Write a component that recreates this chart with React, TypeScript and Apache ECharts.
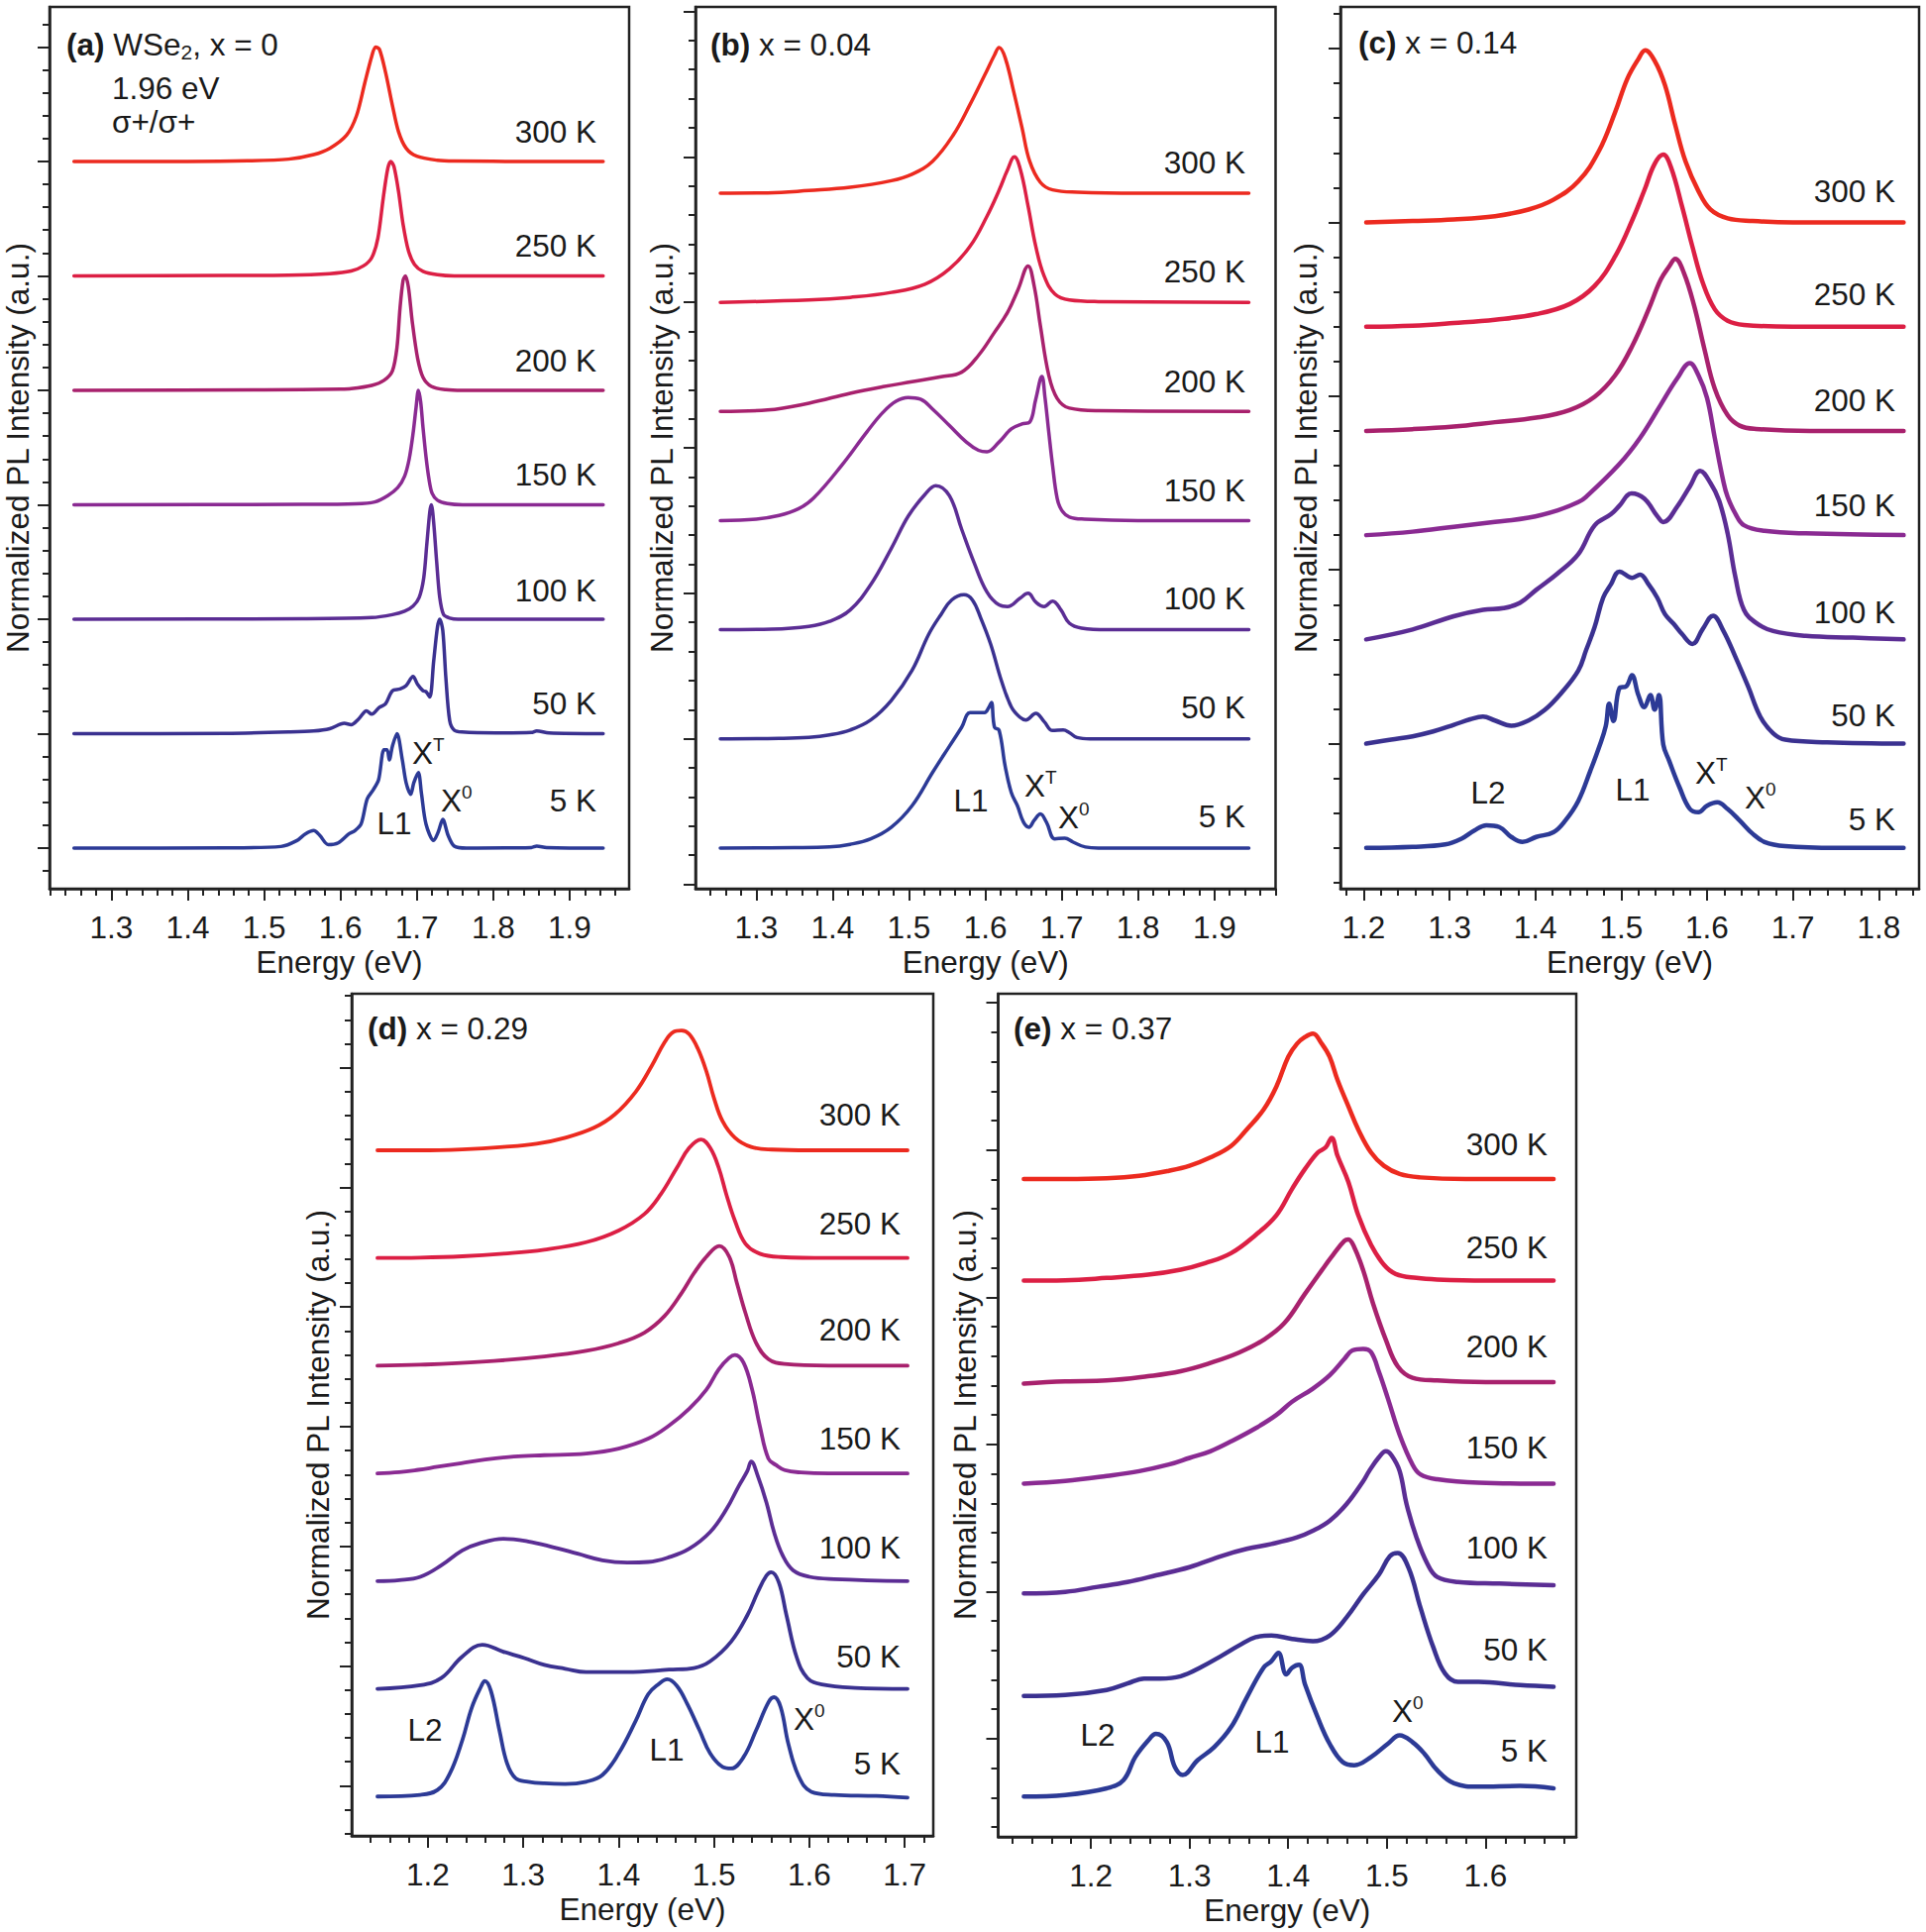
import React, { useEffect, useRef } from 'react';
import * as echarts from 'echarts';

const FONT = "'Liberation Sans', Arial, Helvetica, sans-serif";

const temps = ['300 K', '250 K', '200 K', '150 K', '100 K', '50 K', '5 K'];
const colors = ['#ec2a1f', '#dc1f44', '#a8216d', '#8a2a92', '#5b2d94', '#3a3190', '#2c3a96'];

// ---------- panel (a) WSe2, x = 0 ----------
const a300 = [[1.251,0],[1.40,0],[1.478,0.005],[1.532,0.02],[1.565,0.06],[1.586,0.115],[1.608,0.23],[1.621,0.4],[1.632,0.69],[1.641,0.92],[1.646,1.0],[1.651,0.98],[1.659,0.78],[1.668,0.49],[1.676,0.26],[1.686,0.115],[1.70,0.045],[1.727,0.01],[1.749,0.003],[1.85,0],[1.944,0]];
const a250 = [[1.251,0],[1.45,0.003],[1.532,0.006],[1.586,0.02],[1.614,0.043],[1.63,0.087],[1.641,0.16],[1.649,0.33],[1.656,0.68],[1.662,0.94],[1.666,1.0],[1.67,0.957],[1.676,0.74],[1.682,0.45],[1.689,0.22],[1.697,0.1],[1.708,0.04],[1.727,0.01],[1.749,0],[1.944,0]];
const a200 = [[1.251,0],[1.5,0.004],[1.60,0.01],[1.614,0.014],[1.641,0.043],[1.657,0.087],[1.668,0.17],[1.674,0.375],[1.678,0.72],[1.682,0.96],[1.685,1.0],[1.689,0.9],[1.694,0.6],[1.701,0.28],[1.708,0.115],[1.719,0.035],[1.738,0.006],[1.76,0],[1.944,0]];
const a150 = [[1.251,0],[1.55,0.003],[1.62,0.008],[1.645,0.025],[1.662,0.08],[1.675,0.15],[1.684,0.25],[1.69,0.4],[1.695,0.62],[1.699,0.85],[1.702,1.0],[1.705,0.9],[1.708,0.68],[1.712,0.42],[1.716,0.22],[1.72,0.1],[1.727,0.04],[1.74,0.01],[1.76,0],[1.944,0]];
const a100 = [[1.251,0],[1.55,0.004],[1.641,0.014],[1.668,0.04],[1.684,0.07],[1.695,0.115],[1.703,0.19],[1.709,0.36],[1.713,0.65],[1.717,0.94],[1.719,1.0],[1.722,0.85],[1.726,0.5],[1.73,0.19],[1.735,0.04],[1.743,0.01],[1.754,0],[1.944,0]];
const a50 = [[1.251,0],[1.45,0.003],[1.532,0.014],[1.565,0.023],[1.586,0.043],[1.605,0.09],[1.614,0.078],[1.624,0.13],[1.634,0.2],[1.641,0.17],[1.651,0.23],[1.659,0.26],[1.668,0.375],[1.678,0.39],[1.686,0.42],[1.695,0.5],[1.701,0.43],[1.708,0.375],[1.712,0.367],[1.717,0.32],[1.722,0.63],[1.727,0.93],[1.73,1.0],[1.734,0.9],[1.738,0.49],[1.743,0.115],[1.749,0.03],[1.759,0.014],[1.803,0.006],[1.85,0.01],[1.857,0.023],[1.873,0.006],[1.944,0]];
const a5 = [[1.251,0],[1.45,0.002],[1.522,0.014],[1.543,0.066],[1.554,0.124],[1.565,0.153],[1.573,0.11],[1.584,0.03],[1.597,0.046],[1.611,0.124],[1.619,0.153],[1.627,0.21],[1.635,0.43],[1.643,0.51],[1.65,0.6],[1.657,0.86],[1.661,0.86],[1.664,0.77],[1.668,0.89],[1.674,1.0],[1.681,0.77],[1.686,0.57],[1.692,0.47],[1.696,0.57],[1.702,0.66],[1.706,0.48],[1.712,0.21],[1.722,0.066],[1.728,0.14],[1.734,0.25],[1.741,0.11],[1.749,0.017],[1.765,0],[1.85,0.005],[1.857,0.017],[1.87,0.005],[1.944,0]];

// ---------- panel (b) x = 0.04 ----------
const b300 = [[1.253,0],[1.315,0.002],[1.369,0.018],[1.423,0.04],[1.477,0.086],[1.504,0.13],[1.531,0.22],[1.558,0.4],[1.58,0.61],[1.599,0.81],[1.612,0.95],[1.618,1.0],[1.626,0.93],[1.637,0.7],[1.648,0.45],[1.658,0.22],[1.672,0.075],[1.688,0.023],[1.721,0.007],[1.80,0],[1.945,0]];
const b250 = [[1.253,0],[1.369,0.016],[1.423,0.034],[1.477,0.068],[1.521,0.125],[1.553,0.23],[1.58,0.385],[1.602,0.59],[1.618,0.77],[1.629,0.91],[1.638,1.0],[1.646,0.91],[1.656,0.66],[1.666,0.385],[1.677,0.18],[1.691,0.057],[1.71,0.016],[1.748,0.005],[1.945,0]];
const b200 = [[1.253,0],[1.315,0.01],[1.369,0.057],[1.423,0.125],[1.466,0.17],[1.504,0.204],[1.542,0.238],[1.569,0.27],[1.591,0.385],[1.612,0.544],[1.629,0.68],[1.643,0.84],[1.656,1.0],[1.664,0.86],[1.672,0.59],[1.683,0.25],[1.694,0.09],[1.71,0.023],[1.748,0.005],[1.945,0]];
const b150 = [[1.253,0],[1.30,0.01],[1.33,0.035],[1.355,0.08],[1.375,0.154],[1.412,0.38],[1.445,0.61],[1.466,0.744],[1.483,0.82],[1.499,0.846],[1.515,0.834],[1.531,0.766],[1.553,0.653],[1.575,0.54],[1.591,0.483],[1.602,0.472],[1.618,0.54],[1.634,0.63],[1.648,0.664],[1.658,0.676],[1.666,0.834],[1.674,0.99],[1.678,0.85],[1.683,0.61],[1.688,0.38],[1.694,0.154],[1.70,0.07],[1.71,0.025],[1.73,0.01],[1.80,0],[1.945,0]];
const b100 = [[1.253,0],[1.32,0.004],[1.369,0.023],[1.396,0.057],[1.423,0.136],[1.45,0.31],[1.477,0.56],[1.499,0.78],[1.521,0.93],[1.535,0.99],[1.553,0.92],[1.569,0.69],[1.585,0.465],[1.602,0.26],[1.618,0.17],[1.629,0.159],[1.645,0.215],[1.656,0.25],[1.666,0.19],[1.677,0.159],[1.688,0.197],[1.699,0.136],[1.71,0.045],[1.726,0.011],[1.76,0],[1.945,0]];
const b50 = [[1.253,0],[1.33,0.003],[1.369,0.01],[1.396,0.027],[1.423,0.061],[1.45,0.13],[1.477,0.265],[1.504,0.47],[1.526,0.72],[1.542,0.855],[1.556,0.955],[1.572,0.99],[1.583,0.955],[1.594,0.83],[1.607,0.65],[1.621,0.4],[1.634,0.22],[1.645,0.15],[1.653,0.13],[1.666,0.175],[1.677,0.118],[1.688,0.057],[1.702,0.061],[1.71,0.043],[1.72,0.009],[1.737,0],[1.945,0]];
const b5 = [[1.253,0],[1.35,0.002],[1.396,0.007],[1.423,0.025],[1.45,0.063],[1.477,0.143],[1.504,0.29],[1.531,0.52],[1.553,0.7],[1.569,0.83],[1.58,0.93],[1.591,0.93],[1.599,0.93],[1.605,0.97],[1.608,1.0],[1.612,0.83],[1.618,0.81],[1.626,0.56],[1.634,0.38],[1.642,0.29],[1.65,0.177],[1.657,0.143],[1.664,0.19],[1.672,0.234],[1.68,0.177],[1.691,0.063],[1.704,0.068],[1.715,0.04],[1.731,0.007],[1.748,0],[1.945,0]];

// ---------- panel (c) x = 0.14 ----------
const c300 = [[1.203,0],[1.257,0.008],[1.305,0.017],[1.353,0.036],[1.392,0.074],[1.421,0.13],[1.45,0.236],[1.474,0.41],[1.493,0.635],[1.507,0.825],[1.52,0.94],[1.528,0.99],[1.539,0.93],[1.551,0.79],[1.563,0.56],[1.575,0.35],[1.59,0.18],[1.604,0.074],[1.624,0.023],[1.653,0.008],[1.70,0],[1.829,0]];
const c250 = [[1.203,0],[1.257,0.006],[1.305,0.021],[1.353,0.04],[1.401,0.072],[1.44,0.13],[1.469,0.234],[1.493,0.405],[1.513,0.614],[1.527,0.785],[1.539,0.937],[1.549,0.99],[1.558,0.918],[1.571,0.69],[1.583,0.46],[1.595,0.253],[1.609,0.1],[1.624,0.034],[1.643,0.01],[1.70,0],[1.829,0]];
const c200 = [[1.203,0],[1.257,0.01],[1.305,0.025],[1.353,0.05],[1.401,0.076],[1.44,0.12],[1.469,0.196],[1.493,0.32],[1.513,0.49],[1.532,0.7],[1.546,0.87],[1.556,0.947],[1.563,0.99],[1.573,0.91],[1.585,0.72],[1.597,0.47],[1.609,0.243],[1.624,0.09],[1.638,0.03],[1.657,0.011],[1.72,0],[1.829,0]];
const c150 = [[1.203,0],[1.257,0.02],[1.305,0.048],[1.353,0.076],[1.392,0.1],[1.426,0.143],[1.45,0.19],[1.459,0.22],[1.498,0.41],[1.522,0.56],[1.546,0.75],[1.565,0.9],[1.58,0.99],[1.59,0.92],[1.60,0.79],[1.609,0.56],[1.619,0.31],[1.624,0.22],[1.633,0.124],[1.643,0.057],[1.667,0.025],[1.715,0.01],[1.829,0]];
const c100 = [[1.203,0],[1.257,0.057],[1.305,0.133],[1.339,0.17],[1.363,0.18],[1.382,0.21],[1.401,0.285],[1.426,0.38],[1.45,0.49],[1.469,0.656],[1.488,0.72],[1.498,0.77],[1.512,0.84],[1.527,0.81],[1.542,0.71],[1.549,0.675],[1.566,0.77],[1.58,0.88],[1.592,0.97],[1.604,0.9],[1.614,0.8],[1.624,0.61],[1.633,0.36],[1.643,0.17],[1.657,0.095],[1.677,0.048],[1.715,0.02],[1.77,0.01],[1.829,0]];
const c50 = [[1.203,0],[1.232,0.023],[1.257,0.042],[1.281,0.07],[1.305,0.108],[1.324,0.14],[1.339,0.156],[1.353,0.133],[1.372,0.103],[1.392,0.133],[1.411,0.194],[1.43,0.29],[1.45,0.42],[1.459,0.536],[1.469,0.67],[1.479,0.84],[1.488,0.916],[1.498,0.99],[1.513,0.954],[1.522,0.973],[1.532,0.916],[1.542,0.84],[1.551,0.745],[1.561,0.69],[1.571,0.63],[1.583,0.574],[1.595,0.66],[1.607,0.736],[1.619,0.65],[1.633,0.5],[1.648,0.327],[1.662,0.156],[1.677,0.06],[1.691,0.023],[1.74,0.008],[1.829,0]];
const c5 = [[1.203,0],[1.257,0.006],[1.295,0.02],[1.314,0.053],[1.329,0.1],[1.343,0.13],[1.358,0.12],[1.372,0.063],[1.385,0.034],[1.401,0.063],[1.421,0.09],[1.435,0.158],[1.45,0.27],[1.464,0.443],[1.474,0.576],[1.482,0.7],[1.486,0.83],[1.491,0.73],[1.498,0.92],[1.506,0.93],[1.5125,0.994],[1.52,0.88],[1.527,0.81],[1.534,0.88],[1.539,0.795],[1.544,0.88],[1.549,0.595],[1.556,0.5],[1.568,0.348],[1.58,0.224],[1.59,0.205],[1.60,0.243],[1.612,0.262],[1.624,0.224],[1.638,0.158],[1.653,0.082],[1.667,0.034],[1.691,0.01],[1.75,0],[1.829,0]];

// ---------- panel (d) x = 0.29 ----------
const d300 = [[1.147,0],[1.192,0],[1.236,0.008],[1.279,0.028],[1.314,0.055],[1.344,0.105],[1.374,0.188],[1.396,0.3],[1.418,0.49],[1.435,0.71],[1.448,0.9],[1.457,0.986],[1.466,1.0],[1.474,0.97],[1.483,0.85],[1.492,0.66],[1.50,0.436],[1.509,0.243],[1.522,0.105],[1.539,0.028],[1.561,0.006],[1.60,0],[1.703,0]];
const d250 = [[1.147,0],[1.192,0.003],[1.236,0.014],[1.279,0.036],[1.322,0.069],[1.366,0.132],[1.40,0.23],[1.427,0.367],[1.444,0.53],[1.461,0.753],[1.474,0.92],[1.4865,0.99],[1.496,0.92],[1.505,0.753],[1.513,0.53],[1.522,0.31],[1.533,0.119],[1.548,0.036],[1.57,0.008],[1.62,0],[1.703,0]];
const d200 = [[1.147,0],[1.192,0.008],[1.257,0.033],[1.322,0.077],[1.366,0.124],[1.40,0.188],[1.427,0.276],[1.448,0.414],[1.466,0.607],[1.479,0.773],[1.492,0.91],[1.5056,1.0],[1.516,0.91],[1.524,0.69],[1.533,0.44],[1.544,0.193],[1.557,0.055],[1.574,0.014],[1.62,0],[1.703,0]];
const d150 = [[1.147,0],[1.17,0.01],[1.19,0.03],[1.21,0.055],[1.235,0.085],[1.26,0.115],[1.29,0.14],[1.322,0.152],[1.366,0.166],[1.40,0.207],[1.431,0.29],[1.453,0.4],[1.474,0.54],[1.492,0.7],[1.505,0.87],[1.516,0.966],[1.522,0.99],[1.531,0.925],[1.54,0.7],[1.548,0.4],[1.557,0.124],[1.565,0.07],[1.574,0.028],[1.591,0.008],[1.62,0],[1.703,0]];
const d100 = [[1.147,0],[1.17,0.008],[1.192,0.036],[1.214,0.132],[1.236,0.257],[1.253,0.312],[1.279,0.353],[1.305,0.331],[1.331,0.284],[1.357,0.229],[1.383,0.174],[1.409,0.155],[1.431,0.16],[1.453,0.2],[1.474,0.27],[1.496,0.41],[1.513,0.6],[1.526,0.795],[1.535,0.92],[1.539,1.0],[1.546,0.877],[1.555,0.657],[1.563,0.408],[1.572,0.215],[1.583,0.09],[1.60,0.036],[1.626,0.017],[1.703,0]];
const d50 = [[1.147,0],[1.192,0.03],[1.214,0.09],[1.236,0.27],[1.257,0.367],[1.279,0.31],[1.301,0.257],[1.322,0.2],[1.344,0.168],[1.366,0.14],[1.409,0.14],[1.453,0.16],[1.479,0.174],[1.496,0.23],[1.518,0.395],[1.535,0.615],[1.546,0.81],[1.555,0.946],[1.56,0.975],[1.568,0.89],[1.576,0.615],[1.587,0.257],[1.598,0.09],[1.613,0.036],[1.648,0.008],[1.703,0]];
const d5 = [[1.147,0],[1.192,0.014],[1.21,0.055],[1.223,0.193],[1.236,0.47],[1.246,0.745],[1.256,0.925],[1.2595,0.966],[1.266,0.883],[1.275,0.55],[1.283,0.276],[1.292,0.152],[1.305,0.124],[1.322,0.11],[1.344,0.105],[1.366,0.124],[1.383,0.18],[1.40,0.36],[1.418,0.635],[1.431,0.855],[1.442,0.94],[1.451,0.98],[1.461,0.925],[1.472,0.773],[1.485,0.55],[1.496,0.36],[1.509,0.248],[1.518,0.235],[1.531,0.33],[1.544,0.55],[1.557,0.786],[1.563,0.83],[1.57,0.745],[1.578,0.44],[1.589,0.166],[1.602,0.04],[1.626,0.014],[1.67,0.005],[1.703,-0.01]];

// ---------- panel (e) x = 0.37 ----------
const e300 = [[1.132,0],[1.174,0],[1.216,0.005],[1.249,0.022],[1.279,0.056],[1.30,0.09],[1.321,0.146],[1.342,0.224],[1.358,0.337],[1.375,0.471],[1.388,0.628],[1.40,0.83],[1.409,0.92],[1.417,0.965],[1.425,0.988],[1.434,0.92],[1.442,0.83],[1.45,0.673],[1.461,0.494],[1.471,0.337],[1.484,0.18],[1.497,0.09],[1.513,0.034],[1.534,0.011],[1.58,0],[1.669,0]];
const e250 = [[1.132,0],[1.174,0.002],[1.216,0.018],[1.258,0.04],[1.291,0.074],[1.316,0.119],[1.342,0.186],[1.367,0.31],[1.388,0.444],[1.404,0.624],[1.417,0.758],[1.43,0.87],[1.438,0.905],[1.444,0.97],[1.45,0.848],[1.461,0.67],[1.471,0.444],[1.484,0.242],[1.497,0.108],[1.509,0.045],[1.53,0.018],[1.551,0.007],[1.60,0],[1.669,0]];
const e200 = [[1.132,-0.01],[1.174,0.005],[1.216,0.011],[1.258,0.04],[1.291,0.074],[1.321,0.13],[1.35,0.2],[1.375,0.287],[1.396,0.4],[1.417,0.6],[1.434,0.76],[1.446,0.87],[1.457,0.96],[1.461,0.97],[1.467,0.916],[1.476,0.76],[1.486,0.534],[1.499,0.287],[1.511,0.108],[1.526,0.03],[1.551,0.011],[1.60,0],[1.669,0]];
const e150 = [[1.132,0],[1.174,0.018],[1.216,0.052],[1.249,0.085],[1.279,0.13],[1.30,0.175],[1.321,0.22],[1.342,0.287],[1.367,0.377],[1.388,0.467],[1.404,0.557],[1.425,0.646],[1.442,0.736],[1.457,0.848],[1.465,0.905],[1.476,0.916],[1.484,0.893],[1.492,0.759],[1.501,0.58],[1.513,0.332],[1.526,0.13],[1.534,0.063],[1.551,0.03],[1.593,0.007],[1.669,0]];
const e100 = [[1.132,-0.056],[1.174,-0.045],[1.207,-0.011],[1.237,0.022],[1.266,0.067],[1.30,0.123],[1.333,0.2],[1.358,0.247],[1.383,0.28],[1.409,0.325],[1.425,0.37],[1.442,0.438],[1.459,0.55],[1.476,0.707],[1.482,0.775],[1.492,0.87],[1.499,0.91],[1.505,0.88],[1.513,0.775],[1.52,0.55],[1.53,0.325],[1.541,0.146],[1.551,0.056],[1.572,0.022],[1.614,0.011],[1.669,0]];
const e50 = [[1.132,-0.063],[1.174,-0.056],[1.216,-0.022],[1.237,0.022],[1.254,0.056],[1.27,0.056],[1.291,0.072],[1.312,0.135],[1.333,0.213],[1.35,0.28],[1.367,0.337],[1.383,0.348],[1.404,0.325],[1.425,0.31],[1.442,0.348],[1.459,0.47],[1.476,0.628],[1.492,0.763],[1.503,0.887],[1.511,0.909],[1.522,0.808],[1.534,0.539],[1.547,0.27],[1.559,0.09],[1.572,0.034],[1.593,0.034],[1.635,0.011],[1.669,0]];
const e5 = [[1.132,-0.056],[1.174,-0.045],[1.216,0],[1.233,0.056],[1.245,0.213],[1.258,0.325],[1.266,0.37],[1.277,0.314],[1.285,0.146],[1.293,0.09],[1.308,0.19],[1.325,0.28],[1.342,0.415],[1.358,0.617],[1.375,0.82],[1.383,0.864],[1.39,0.92],[1.398,0.774],[1.404,0.82],[1.411,0.84],[1.417,0.707],[1.43,0.48],[1.442,0.303],[1.455,0.18],[1.467,0.157],[1.484,0.213],[1.501,0.303],[1.513,0.36],[1.526,0.314],[1.538,0.236],[1.551,0.123],[1.568,0.034],[1.593,0.011],[1.635,0.016],[1.669,0]];

// vertical offsets of the stacked spectra (300 K ... 5 K)
const offA = [6, 5, 4, 3, 2, 1, 0];
const offB = [4.75, 4.0, 3.25, 2.5, 1.75, 1.0, 0.25];
const offC = [4.0, 3.4, 2.8, 2.2, 1.6, 1.0, 0.4];
const offD = [5.31, 4.41, 3.51, 2.61, 1.71, 0.81, -0.09];
const offE = [3.803, 3.113, 2.423, 1.733, 1.043, 0.353, -0.337];

// x tick labels
const xLabelsAB = [1.3, 1.4, 1.5, 1.6, 1.7, 1.8, 1.9];
const xLabelsC = [1.2, 1.3, 1.4, 1.5, 1.6, 1.7, 1.8];
const xLabelsD = [1.2, 1.3, 1.4, 1.5, 1.6, 1.7];
const xLabelsE = [1.2, 1.3, 1.4, 1.5, 1.6];

function steps(lo: number, hi: number, st: number) {
  const out: number[] = [];
  const n = Math.round((hi - lo) / st);
  for (let i = 0; i <= n; i++) out.push(Math.round((lo + i * st) * 1000) / 1000);
  return out;
}
function minorOf(all: number[], major: number[]) {
  return all.filter((v) => !major.some((m) => Math.abs(m - v) < 1e-6));
}

type Ann = { t: string; sup?: string; x: number; y: number; align?: string };

const panels = [
  {
    curves: [a300, a250, a200, a150, a100, a50, a5], off: offA,
    grid: { left: 50, top: 7, width: 585, height: 890 },
    xMin: 1.219, xMax: 1.978, yMin: -0.355, yMax: 7.35,
    xMajor: xLabelsAB, xAll: steps(1.22, 1.96, 0.02),
    yMajor: steps(0, 7, 1), yAll: steps(-0.2, 7.2, 0.2),
    lw: 3.5, smooth: 0.3, labelRight: 602, labelDy: [30, 30, 30, 30, 29, 30, 48],
    title: { b: '(a)', rest: ' WSe', sub: '2', after: ', x = 0', x: 67, y: 45 },
    yTitle: { x: 18, y: 452 },
    ann: [
      { t: 'L1', x: 398, y: 831, align: 'center' },
      { t: 'X', sup: 'T', x: 416, y: 760 },
      { t: 'X', sup: '0', x: 445, y: 808 },
    ] as Ann[],
  },
  {
    curves: [b300, b250, b200, b150, b100, b50, b5], off: offB,
    grid: { left: 702, top: 7, width: 585.5, height: 890 },
    xMin: 1.2205, xMax: 1.98, yMin: -0.03, yMax: 6.03,
    xMajor: xLabelsAB, xAll: steps(1.22, 1.98, 0.02),
    yMajor: steps(0, 6, 1), yAll: steps(0, 6, 0.2),
    lw: 3.5, smooth: 0.4, labelRight: 1257, labelDy: [31, 31, 30, 30, 32, 32, 32],
    title: { b: '(b)', rest: ' x = 0.04', sub: '', after: '', x: 717, y: 45 },
    yTitle: { x: 668, y: 452 },
    ann: [
      { t: 'L1', x: 980, y: 808, align: 'center' },
      { t: 'X', sup: 'T', x: 1034, y: 793 },
      { t: 'X', sup: '0', x: 1068, y: 825 },
    ] as Ann[],
  },
  {
    curves: [c300, c250, c200, c150, c100, c50, c5], off: offC,
    grid: { left: 1353, top: 7, width: 584, height: 890 },
    xMin: 1.173, xMax: 1.847, yMin: 0.165, yMax: 5.24,
    xMajor: xLabelsC, xAll: steps(1.18, 1.84, 0.02),
    yMajor: steps(1, 5, 1), yAll: steps(0.2, 5.2, 0.2),
    lw: 4.5, smooth: 0.4, labelRight: 1913, labelDy: [31, 33, 31, 30, 27, 29, 29],
    title: { b: '(c)', rest: ' x = 0.14', sub: '', after: '', x: 1371, y: 43 },
    yTitle: { x: 1318, y: 452 },
    ann: [
      { t: 'L2', x: 1502, y: 800, align: 'center' },
      { t: 'L1', x: 1648, y: 797, align: 'center' },
      { t: 'X', sup: 'T', x: 1711, y: 780 },
      { t: 'X', sup: '0', x: 1761, y: 805 },
    ] as Ann[],
  },
  {
    curves: [d300, d250, d200, d150, d100, d50, d5], off: offD,
    grid: { left: 355, top: 1003, width: 587, height: 850 },
    xMin: 1.12, xMax: 1.73, yMin: -0.419, yMax: 6.618,
    xMajor: xLabelsD, xAll: steps(1.14, 1.72, 0.02),
    yMajor: steps(0, 6, 1), yAll: steps(-0.4, 6.6, 0.2),
    lw: 3.8, smooth: 0.4, labelRight: 909, labelDy: [36, 35, 36, 35, 34, 33, 33],
    title: { b: '(d)', rest: ' x = 0.29', sub: '', after: '', x: 371, y: 1038 },
    yTitle: { x: 321, y: 1428 },
    ann: [
      { t: 'L2', x: 429, y: 1746, align: 'center' },
      { t: 'L1', x: 673, y: 1766, align: 'center' },
      { t: 'X', sup: '0', x: 801, y: 1735 },
    ] as Ann[],
  },
  {
    curves: [e300, e250, e200, e150, e100, e50, e5], off: offE,
    grid: { left: 1007.5, top: 1003, width: 583.5, height: 851 },
    xMin: 1.106, xMax: 1.692, yMin: -0.667, yMax: 5.062,
    xMajor: xLabelsE, xAll: steps(1.12, 1.68, 0.02),
    yMajor: steps(0, 5, 1), yAll: steps(-0.6, 5.0, 0.2),
    lw: 4.5, smooth: 0.4, labelRight: 1562, labelDy: [35, 34, 36, 36, 38, 37, 38],
    title: { b: '(e)', rest: ' x = 0.37', sub: '', after: '', x: 1023, y: 1038 },
    yTitle: { x: 974, y: 1428 },
    ann: [
      { t: 'L2', x: 1108, y: 1751, align: 'center' },
      { t: 'L1', x: 1284, y: 1758, align: 'center' },
      { t: 'X', sup: '0', x: 1405, y: 1727 },
    ] as Ann[],
  },
];

const INK = '#1a1a1a';
const FS = 31.5;

function buildOption() {
  const grid: any[] = [];
  const xAxis: any[] = [];
  const yAxis: any[] = [];
  const series: any[] = [];
  const graphic: any[] = [];

  panels.forEach((p, i) => {
    grid.push({
      left: p.grid.left, top: p.grid.top, width: p.grid.width, height: p.grid.height,
      show: true, borderColor: '#222', borderWidth: 2.5, backgroundColor: 'transparent',
      containLabel: false, outerBoundsMode: 'none',
    });
    const xMinor = minorOf(p.xAll, p.xMajor).filter((v) => v >= p.xMin && v <= p.xMax);
    const xMaj = p.xMajor.filter((v) => v >= p.xMin && v <= p.xMax);
    const yMinor = minorOf(p.yAll, p.yMajor).filter((v) => v >= p.yMin && v <= p.yMax);
    const yMaj = p.yMajor.filter((v) => v >= p.yMin && v <= p.yMax);

    xAxis.push({
      gridIndex: i, type: 'value', min: p.xMin, max: p.xMax, position: 'bottom',
      axisLine: { show: true, onZero: false, lineStyle: { color: '#222', width: 2.5 } },
      axisTick: { show: true, inside: false, length: 12, lineStyle: { color: '#222', width: 2 }, customValues: xMaj },
      axisLabel: {
        show: true, customValues: xMaj, margin: 23, fontSize: FS, color: INK, fontFamily: FONT,
        formatter: (v: number) => v.toFixed(1),
      },
      splitLine: { show: false },
    });
    xAxis.push({
      gridIndex: i, type: 'value', min: p.xMin, max: p.xMax, position: 'bottom',
      axisLine: { show: false, onZero: false },
      axisTick: { show: true, inside: false, length: 7, lineStyle: { color: '#222', width: 2 }, customValues: xMinor },
      axisLabel: { show: false },
      splitLine: { show: false },
    });
    yAxis.push({
      gridIndex: i, type: 'value', min: p.yMin, max: p.yMax, position: 'left',
      axisLine: { show: true, onZero: false, lineStyle: { color: '#222', width: 2.5 } },
      axisTick: { show: true, inside: false, length: 12, lineStyle: { color: '#222', width: 2 }, customValues: yMaj },
      axisLabel: { show: false },
      splitLine: { show: false },
    });
    yAxis.push({
      gridIndex: i, type: 'value', min: p.yMin, max: p.yMax, position: 'left',
      axisLine: { show: false, onZero: false },
      axisTick: { show: true, inside: false, length: 7, lineStyle: { color: '#222', width: 2 }, customValues: yMinor },
      axisLabel: { show: false },
      splitLine: { show: false },
    });

    p.curves.forEach((c, k) => {
      series.push({
        type: 'line', xAxisIndex: 2 * i, yAxisIndex: 2 * i,
        data: c.map(([x, y]) => [x, y + p.off[k]]),
        showSymbol: false, symbol: 'none', smooth: p.smooth,
        lineStyle: { color: colors[k], width: p.lw, cap: 'round', join: 'round' },
        z: 2 + k, silent: true, animation: false,
      });
    });

    const yPx = (v: number) => p.grid.top + ((p.yMax - v) / (p.yMax - p.yMin)) * p.grid.height;

    // temperature labels
    temps.forEach((t, k) => {
      graphic.push({
        type: 'text', x: p.labelRight, y: yPx(p.off[k]) - p.labelDy[k], z: 50,
        style: { text: t, fontFamily: FONT, fontSize: FS, fill: INK, align: 'right', verticalAlign: 'middle' },
      });
    });

    // panel title
    const tt = p.title;
    const titleText = '{b|' + tt.b + '}{n|' + tt.rest + '}' + (tt.sub ? '{sub|' + tt.sub + '}' : '') + (tt.after ? '{n|' + tt.after + '}' : '');
    graphic.push({
      type: 'text', x: tt.x, y: tt.y, z: 50,
      style: {
        text: titleText, align: 'left', verticalAlign: 'middle', fill: INK, fontFamily: FONT, fontSize: FS,
        rich: {
          b: { fontFamily: FONT, fontSize: FS, fontWeight: 'bold', lineHeight: 36, fill: INK },
          n: { fontFamily: FONT, fontSize: FS, lineHeight: 36, fill: INK },
          sub: { fontFamily: FONT, fontSize: 21, lineHeight: 15, verticalAlign: 'bottom', fill: INK },
        },
      },
    });

    // y axis title
    graphic.push({
      type: 'text', x: p.yTitle.x, y: p.yTitle.y, rotation: Math.PI / 2, z: 50,
      style: { text: 'Normalized PL Intensity (a.u.)', fontFamily: FONT, fontSize: FS, fill: INK, align: 'center', verticalAlign: 'middle' },
    });
    // x axis title
    graphic.push({
      type: 'text', x: p.grid.left + p.grid.width / 2, y: p.grid.top + p.grid.height + 74, z: 50,
      style: { text: 'Energy (eV)', fontFamily: FONT, fontSize: FS, fill: INK, align: 'center', verticalAlign: 'middle' },
    });

    // peak annotations
    p.ann.forEach((a) => {
      const text = a.sup ? '{n|' + a.t + '}{s|' + a.sup + '}' : a.t;
      graphic.push({
        type: 'text', x: a.x, y: a.y, z: 50,
        style: {
          text, fontFamily: FONT, fontSize: FS, fill: INK, align: a.align || 'left', verticalAlign: 'middle',
          rich: {
            n: { fontFamily: FONT, fontSize: FS, lineHeight: 36, fill: INK },
            s: { fontFamily: FONT, fontSize: 19, lineHeight: 21, verticalAlign: 'top', fill: INK },
          },
        },
      });
    });
  });

  // extra text in panel (a)
  graphic.push({
    type: 'text', x: 113, y: 89, z: 50,
    style: { text: '1.96 eV', fontFamily: FONT, fontSize: FS, fill: INK, align: 'left', verticalAlign: 'middle' },
  });
  graphic.push({
    type: 'text', x: 113, y: 123, z: 50,
    style: { text: 'σ+/σ+', fontFamily: FONT, fontSize: FS, fill: INK, align: 'left', verticalAlign: 'middle' },
  });

  return {
    animation: false,
    backgroundColor: '#ffffff',
    grid, xAxis, yAxis, series, graphic,
  };
}

export default function App() {
  const ref = useRef<HTMLDivElement>(null);
  useEffect(() => {
    if (!ref.current) return;
    const chart = echarts.init(ref.current, null, { renderer: 'svg' });
    chart.setOption(buildOption() as any);
    return () => chart.dispose();
  }, []);
  return (
    <div
      ref={ref}
      style={{ position: 'absolute', left: 0, top: 0, width: 1944, height: 1950, background: '#fff' }}
    />
  );
}
